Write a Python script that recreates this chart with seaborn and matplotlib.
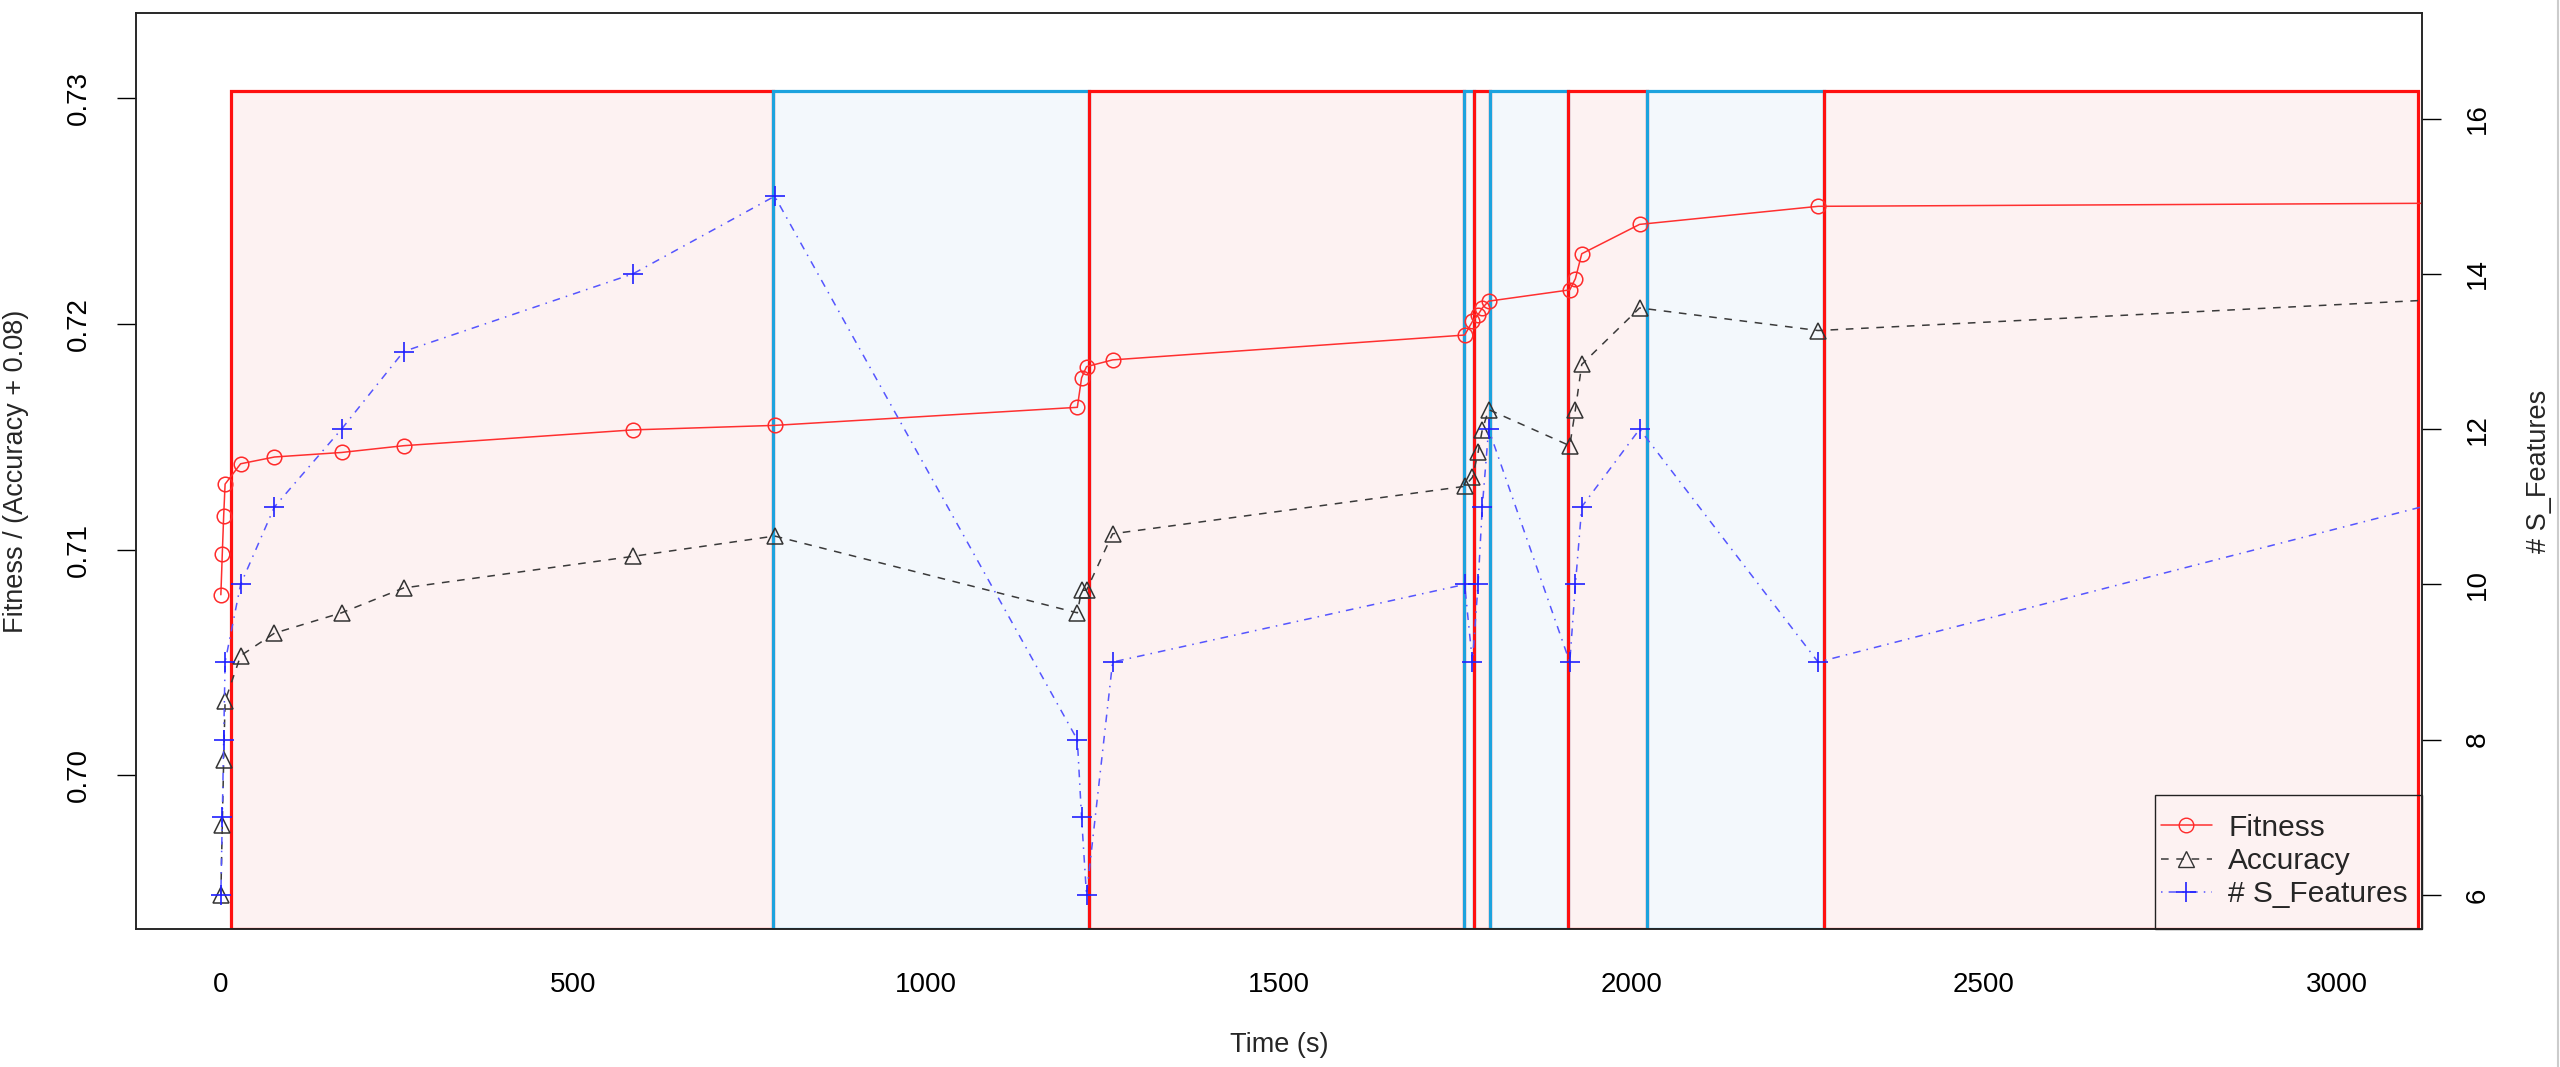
import numpy as np
import pandas as pd
import matplotlib
matplotlib.use("Agg")
import matplotlib.pyplot as plt
from matplotlib.lines import Line2D
from matplotlib.patches import Rectangle
import seaborn as sns

# ---------------- data ----------------
time_s = [1, 3, 5, 7, 29, 77, 172, 260, 585, 786,
          1215, 1221, 1228, 1265,
          1764, 1775, 1783, 1789, 1798,
          1913, 1921, 1930, 2012, 2265, 3549]
fitness = [0.7080, 0.7098, 0.7115, 0.7129, 0.7138, 0.7141, 0.7143, 0.7146, 0.7153, 0.7155,
           0.7163, 0.7176, 0.7181, 0.7184,
           0.7195, 0.7201, 0.7204, 0.7207, 0.7210,
           0.7215, 0.7220, 0.7231, 0.7244, 0.7252, 0.7254]
accuracy = [0.6147, 0.6178, 0.6207, 0.6233, 0.6253, 0.6263, 0.6272, 0.6283, 0.6297, 0.6306,
            0.6272, 0.6282, 0.6282, 0.6307,
            0.6328, 0.6332, 0.6343, 0.6353, 0.6362,
            0.6346, 0.6362, 0.6382, 0.6407, 0.6397, 0.6417]
n_features = [6, 7, 8, 9, 10, 11, 12, 13, 14, 15,
              8, 7, 6, 9,
              10, 9, 10, 11, 12,
              9, 10, 11, 12, 9, 12]
ACC_SHIFT = 0.08

phase_start = [16, 784, 1231, 1763, 1777, 1800, 1911, 2022, 2273]
phase_end = [784, 1231, 1763, 1777, 1800, 1911, 2022, 2273, 3116]
phase_kind = ["a", "b", "a", "b", "a", "b", "a", "b", "a"]
phase_top = 0.7303

series_labels = ["Fitness", "Accuracy", "# S_Features"]
x_ticks = [0, 500, 1000, 1500, 2000, 2500, 3000]
y_ticks = [0.70, 0.71, 0.72, 0.73]
y2_ticks = [6, 8, 10, 12, 14, 16]

# ---------------- style ----------------
sns.set_style("white")
plt.rcParams["font.family"] = ["Liberation Sans", "DejaVu Sans"]

FS_TICK = 20
FS_LAB = 19.5
FS_LEG = 21.5

fill_col = {"a": "#fdf2f2", "b": "#f3f8fc"}
edge_col = {"a": "#ff1010", "b": "#1ca3de"}

XLIM = (-120, 3121)
YLIM = (0.69320, 0.73376)
Y2LIM = (5.562, 17.36)

fig = plt.figure(figsize=(25.6, 10.67), dpi=100)
ax = fig.add_axes([135.5 / 2560, 1 - 929 / 1067, (2422 - 135.5) / 2560, (929 - 13) / 1067])

# shaded phases
for x0, x1, k in zip(phase_start, phase_end, phase_kind):
    ax.fill_between([x0, x1], [YLIM[0], YLIM[0]], [phase_top, phase_top],
                    facecolor=fill_col[k], edgecolor="none", zorder=1)
    ax.plot([x0, x0, x1, x1, x0], [YLIM[0], phase_top, phase_top, YLIM[0], YLIM[0]],
            color=edge_col[k], lw=2.3, zorder=1.5, solid_joinstyle="miter")

df = pd.DataFrame({
    "time": time_s,
    "fitness": fitness,
    "acc_shift": np.array(accuracy) + ACC_SHIFT,
    "features": n_features,
})

sns.lineplot(data=df, x="time", y="fitness", ax=ax, estimator=None, sort=False,
             color="#ff3030", lw=1.1, zorder=3)
l_fit = ax.get_lines()[-1]
l_fit.set_marker("o")
l_fit.set_markersize(10.5)
l_fit.set_markerfacecolor("none")
l_fit.set_markeredgecolor("#ff2a2a")
l_fit.set_markeredgewidth(1.1)

sns.lineplot(data=df, x="time", y="acc_shift", ax=ax, estimator=None, sort=False,
             color="#3a3a3a", lw=1.1, zorder=3)
l_acc = ax.get_lines()[-1]
l_acc.set_dashes((5, 5))
l_acc.set_marker("^")
l_acc.set_markersize(12)
l_acc.set_markerfacecolor("none")
l_acc.set_markeredgecolor("#333333")
l_acc.set_markeredgewidth(1.1)

ax.set_xlim(*XLIM)
ax.set_ylim(*YLIM)

ax2 = ax.twinx()
sns.lineplot(data=df, x="time", y="features", ax=ax2, estimator=None, sort=False,
             color="#5555ff", lw=1.1, zorder=3)
l_fea = ax2.get_lines()[-1]
l_fea.set_dashes((1, 4, 5, 4))
l_fea.set_marker("+")
l_fea.set_markersize(14)
l_fea.set_markeredgecolor("#2020ff")
l_fea.set_markeredgewidth(1.2)
ax2.set_ylim(*Y2LIM)
ax2.set_xlim(*XLIM)

# axes, ticks, labels
ax.set_xticks(x_ticks)
ax.set_xticklabels([str(v) for v in x_ticks])
ax.set_yticks(y_ticks)
ax.set_yticklabels([f"{v:.2f}" for v in y_ticks], rotation=90, va="center")
ax2.set_yticks(y2_ticks)
ax2.set_yticklabels([str(v) for v in y2_ticks], rotation=90, va="center")

for a in (ax, ax2):
    a.tick_params(axis="both", direction="out", length=13.7, width=1.0, color="black",
                  labelsize=FS_TICK, labelcolor="black")
    for s in a.spines.values():
        s.set_visible(True)
        s.set_color("#222222")
        s.set_linewidth(1.1)
ax.tick_params(axis="x", pad=17)
ax.tick_params(axis="y", pad=18)
ax2.tick_params(axis="y", pad=17)

ax.set_xlabel("Time (s)", fontsize=FS_LAB, va="center")
ax.xaxis.set_label_coords(0.5, (929 - 1045) / 916)
ax.set_ylabel("Fitness / (Accuracy + 0.08)", fontsize=FS_LAB, va="center")
ax.yaxis.set_label_coords((16 - 135.5) / 2286.5, 0.5)
ax2.set_ylabel("# S_Features", fontsize=FS_LAB, va="center", rotation=90)
ax2.yaxis.set_label_coords((2539 - 135.5) / 2286.5, 0.5)

# legend (R-style box: tight sides, roomy top and bottom)
handles = [
    Line2D([], [], color="#ff3030", lw=1.1, marker="o", markersize=10.5,
           markerfacecolor="none", markeredgecolor="#ff2a2a"),
    Line2D([], [], color="#3a3a3a", lw=1.1, dashes=(5, 5), marker="^", markersize=12,
           markerfacecolor="none", markeredgecolor="#333333"),
    Line2D([], [], color="#5555ff", lw=1.1, dashes=(1, 4, 5, 4), marker="+", markersize=14,
           markeredgecolor="#2020ff", markeredgewidth=1.2),
]
leg_x0 = (2155 - 135.5) / 2286.5
leg_h = (929 - 795) / 916
ax2.add_patch(Rectangle((leg_x0, 0.0), 1.0 - leg_x0, leg_h, transform=ax2.transAxes,
                        facecolor="none", edgecolor="#222222", lw=1.0, zorder=9,
                        clip_on=False))
leg = ax2.legend(handles, series_labels, loc="center left",
                 bbox_to_anchor=((2161 - 135.5) / 2286.5, (929 - 861) / 916),
                 fontsize=FS_LEG, frameon=False, borderaxespad=0.0, borderpad=0.0,
                 handlelength=1.7, handletextpad=0.55, labelspacing=0.18)
leg.set_zorder(10)

fig.add_artist(Line2D([0.9992, 0.9992], [0, 1], transform=fig.transFigure,
                      color="#cccccc", lw=1.5))

fig.savefig("out.png", dpi=100, facecolor="white")
